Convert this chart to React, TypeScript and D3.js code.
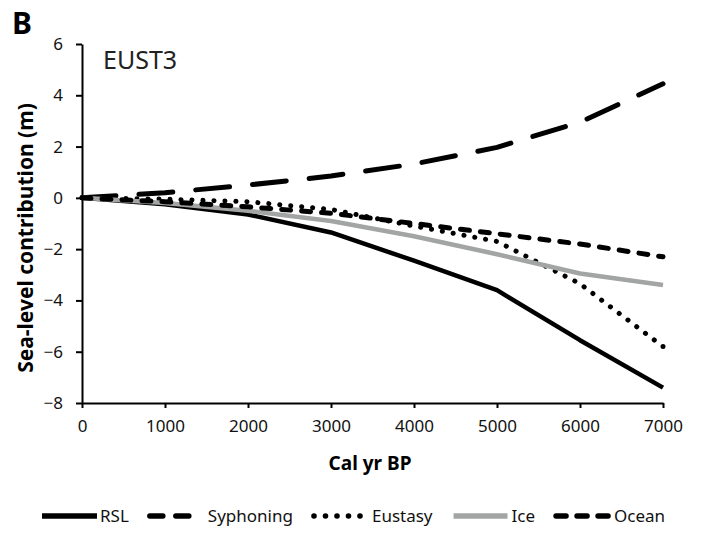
import React, { useRef, useEffect } from "react";
import * as d3 from "d3";

// Cal yr BP
const years = [0, 1000, 2000, 3000, 4000, 5000, 6000, 7000];

// sea-level contribution (m), one array per component
const rsl = [0, -0.25, -0.65, -1.35, -2.45, -3.6, -5.55, -7.4];
const syphoning = [0, 0.2, 0.5, 0.85, 1.32, 1.97, 2.95, 4.45];
const eustasy = [0, -0.05, -0.15, -0.45, -1.1, -1.7, -3.35, -5.8];
const ice = [0, -0.2, -0.5, -0.9, -1.5, -2.2, -2.95, -3.4];
const ocean = [0, -0.15, -0.35, -0.6, -1.0, -1.4, -1.8, -2.3];

const seriesNames = ["RSL", "Syphoning", "Eustasy", "Ice", "Ocean"];
const seriesValues = [rsl, syphoning, eustasy, ice, ocean];

const xTicks = [0, 1000, 2000, 3000, 4000, 5000, 6000, 7000];
const yTicks = [-8, -6, -4, -2, 0, 2, 4, 6];

// line styles, same order as seriesNames (dot = spacing of a dotted line)
const styles = [
  { color: "#000", width: 4.5, dash: null, dot: 0, cap: "butt", legendDash: null, legendLen: 55 },
  { color: "#000", width: 5, dash: "34 23", dot: 0, cap: "round", legendDash: "13 13", legendLen: 40 },
  { color: "#000", width: 5, dash: null, dot: 11, cap: "round", legendDash: "0.1 11.4", legendLen: 47 },
  { color: "#a3a5a5", width: 4.5, dash: null, dot: 0, cap: "butt", legendDash: null, legendLen: 54 },
  { color: "#000", width: 5, dash: "9 11", dot: 0, cap: "round", legendDash: "10 11", legendLen: 52 },
];

const W = 705;
const H = 537;
const FONT = "'Noto Sans', 'Open Sans', sans-serif";

export default function App() {
  const svgRef = useRef<SVGSVGElement>(null);

  useEffect(() => {
    if (!svgRef.current) return;
    const svg = d3.select(svgRef.current);
    svg.selectAll("*").remove();

    const left = 82;
    const right = 663;
    const top = 44;
    const bottom = 403;

    const x = d3.scaleLinear().domain([0, 7000]).range([left, right]);
    const y = d3.scaleLinear().domain([-8, 6]).range([bottom, top]);

    // axes
    const yAxis = svg
      .append("g")
      .attr("transform", `translate(${left},0)`)
      .call(d3.axisLeft(y).tickValues(yTicks).tickSize(6).tickSizeOuter(0).tickPadding(13));
    const xAxis = svg
      .append("g")
      .attr("transform", `translate(0,${bottom})`)
      .call(d3.axisBottom(x).tickValues(xTicks).tickSize(5).tickSizeOuter(0).tickPadding(12).tickFormat(d3.format("d")));

    [yAxis, xAxis].forEach((g) => {
      g.select(".domain").attr("stroke", "#000").attr("stroke-width", 2);
      g.selectAll(".tick line").attr("stroke", "#000").attr("stroke-width", 2);
      g.selectAll(".tick text")
        .attr("fill", "#111")
        .style("font-family", FONT)
        .style("font-size", "17px");
    });

    // series lines
    const line = d3
      .line<number>()
      .x((_, i) => x(years[i]))
      .y((d) => y(d));

    seriesValues.forEach((vals, i) => {
      const s = styles[i];
      const p = svg
        .append("path")
        .attr("d", line(vals))
        .attr("fill", "none")
        .attr("stroke", s.color)
        .attr("stroke-width", s.width)
        .attr("stroke-linecap", s.cap)
        .attr("stroke-linejoin", "round")
        .attr("stroke-dasharray", s.dash);
      if (s.dot) {
        // stretch the dot spacing a little so a dot sits on both ends
        const len = (p.node() as SVGPathElement).getTotalLength();
        const step = len / Math.round(len / s.dot);
        p.attr("stroke-dasharray", `0.1 ${step - 0.1}`);
      }
    });

    // titles
    svg
      .append("text")
      .attr("x", 12)
      .attr("y", 34)
      .style("font-family", FONT)
      .style("font-weight", "bold")
      .style("font-size", "30px")
      .text("B");

    svg
      .append("text")
      .attr("x", 103)
      .attr("y", 69)
      .style("font-family", FONT)
      .style("font-size", "25px")
      .attr("fill", "#222")
      .text("EUST3");

    svg
      .append("text")
      .attr("transform", `translate(33,238) rotate(-90)`)
      .attr("text-anchor", "middle")
      .style("font-family", FONT)
      .style("font-weight", "bold")
      .style("font-size", "21px")
      .text("Sea-level contribution (m)");

    svg
      .append("text")
      .attr("x", 370)
      .attr("y", 470)
      .attr("text-anchor", "middle")
      .style("font-family", FONT)
      .style("font-weight", "bold")
      .style("font-size", "19px")
      .text("Cal yr BP");

    // legend
    const legendY = 516;
    let lx = 42;
    seriesNames.forEach((name, i) => {
      const s = styles[i];
      svg
        .append("line")
        .attr("x1", lx)
        .attr("x2", lx + s.legendLen)
        .attr("y1", legendY)
        .attr("y2", legendY)
        .attr("stroke", s.color)
        .attr("stroke-width", 5.5)
        .attr("stroke-linecap", s.legendDash ? "round" : "butt")
        .attr("stroke-dasharray", s.legendDash);
      const t = svg
        .append("text")
        .attr("x", lx + 58)
        .attr("y", legendY + 6)
        .attr("fill", "#111")
        .style("font-family", FONT)
        .style("font-size", "17px")
        .text(name);
      const tw = (t.node() as SVGTextElement).getComputedTextLength();
      lx += 58 + tw + 21;
    });
  }, []);

  return (
    <svg
      ref={svgRef}
      width={W}
      height={H}
      style={{ position: "absolute", left: 0, top: 0, background: "#fff" }}
    />
  );
}
